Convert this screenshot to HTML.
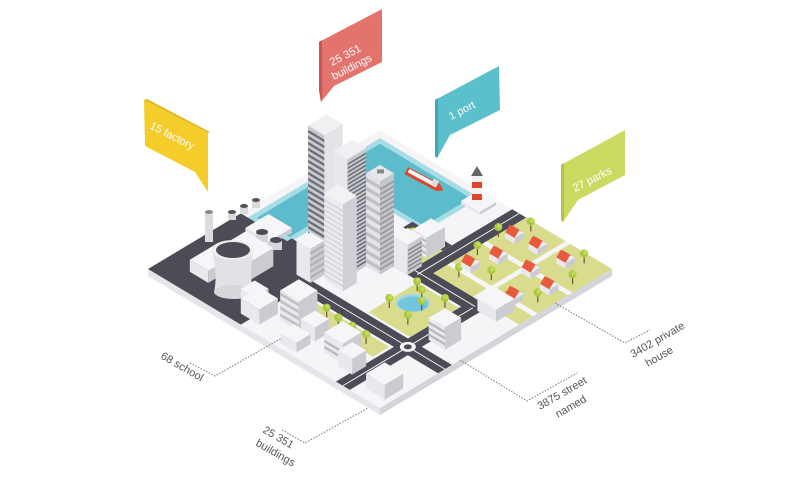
<!DOCTYPE html>
<html><head><meta charset="utf-8"><style>
html,body{margin:0;padding:0;background:#fff;width:800px;height:480px;overflow:hidden}
svg{display:block}
text{font-family:"Liberation Sans",sans-serif}
</style></head><body>
<svg id="s" width="800" height="480" viewBox="0 0 800 480" xmlns="http://www.w3.org/2000/svg">
<g id="city"></g>
<polygon points="319,42 382,9 382,62 334,86 321,102 319,90" fill="#e5736d"/>
<polygon points="319,42 322,40 322,100 321,102 319,90" fill="#c95650"/>
<text fill="#fff" font-size="11" transform="translate(332,66) rotate(-27)">25 351</text>
<text fill="#fff" font-size="11" transform="translate(334,80) rotate(-27)">buildings</text>

<polygon points="144,100 208,133 208,192 195,172 145,146" fill="#f4cd2a"/>
<polygon points="144,100 147,99 210,132 208,133" fill="#e2b81c"/>
<text fill="#fff" font-size="11" transform="translate(149,128) rotate(27)">15 factory</text>

<polygon points="435,100 499,66 500,110 450,135 437,158 435,156" fill="#5cbfcc"/>
<polygon points="435,100 438,98 438,156 437,158 435,156" fill="#45a7b4"/>
<text fill="#fff" font-size="11" transform="translate(451,120) rotate(-27)">1 port</text>

<polygon points="561,165 625,130 625,175 578,200 563,222 561,220" fill="#cdda62"/>
<polygon points="561,165 564,163 564,220 563,222 561,220" fill="#b4c24a"/>
<text fill="#fff" font-size="11" transform="translate(575,192) rotate(-27)">27 parks</text>

<g stroke="#777" stroke-width="1" stroke-dasharray="1.5,1.5" fill="none">
<polyline points="190,363 215,376 282,338"/>
<polyline points="282,430 305,443 368,408"/>
<polyline points="460,360 527,401 577,373"/>
<polyline points="555,303 625,343 650,330"/>
</g>
<g fill="#555" font-size="11">
<text transform="translate(160,358) rotate(30)">68 school</text>
<text transform="translate(262,432) rotate(30)">25 351</text>
<text transform="translate(255,445) rotate(30)">buildings</text>
<text transform="translate(540,410) rotate(-30)">3875 street</text>
<text transform="translate(558,418) rotate(-30)">named</text>
<text transform="translate(633,358) rotate(-30)">3402 private</text>
<text transform="translate(648,367) rotate(-30)">house</text>
</g>
</svg>
<script>
const out=[];
const P=(u,v,z=0)=>[380+2.32*(u-v),130+1.39*(u+v)-z];
const pts=a=>a.map(p=>p[0].toFixed(1)+','+p[1].toFixed(1)).join(' ');
function poly(a,f,extra=''){out.push(`<polygon points="${pts(a)}" fill="${f}" ${extra}/>`);}
function rect(u0,v0,u1,v1,f,z=0){poly([P(u0,v0,z),P(u1,v0,z),P(u1,v1,z),P(u0,v1,z)],f);}
function box(u0,v0,u1,v1,h,z=0,c=['#f6f6f8','#e9e9ed','#cbccd2']){
 poly([P(u0,v1,z),P(u1,v1,z),P(u1,v1,z+h),P(u0,v1,z+h)],c[1]);
 poly([P(u1,v1,z),P(u1,v0,z),P(u1,v0,z+h),P(u1,v1,z+h)],c[2]);
 poly([P(u0,v0,z+h),P(u1,v0,z+h),P(u1,v1,z+h),P(u0,v1,z+h)],c[0]);
}
function stripesL(u0,v1,u1,z0,z1,step,col){for(let z=z0;z<z1-2;z+=step){poly([P(u0,v1,z),P(u1,v1,z),P(u1,v1,z+step*0.45),P(u0,v1,z+step*0.45)],col);}}
function stripesR(u1,v0,v1,z0,z1,step,col){for(let z=z0;z<z1-2;z+=step){poly([P(u1,v1,z),P(u1,v0,z),P(u1,v0,z+step*0.45),P(u1,v1,z+step*0.45)],col);}}
function tree(u,v){const b=P(u,v),t=P(u,v,8);out.push(`<line x1="${b[0]}" y1="${b[1]}" x2="${t[0]}" y2="${t[1]}" stroke="#6b5a3a" stroke-width="1.2"/><circle cx="${t[0]}" cy="${t[1]-2}" r="4" fill="#a9c93f"/><circle cx="${t[0]+1}" cy="${t[1]-3}" r="2.2" fill="#c3da5c"/>`);}
function house(u,v){box(u,v,u+4,v+4,6);
 poly([P(u,v,6),P(u+4,v,6),P(u+4,v+2,11),P(u,v+2,11)],'#c9442c');
 poly([P(u,v+4,6),P(u+4,v+4,6),P(u+4,v+2,11),P(u,v+2,11)],'#e85a3c');
 poly([P(u+4,v+4,6),P(u+4,v,6),P(u+4,v+2,11)],'#f0f0f2');}
const D='#4b4c56',G='#d8dc8c',W='#f5f5f7';
box(0,0,100,100,7,-7,[W,'#e6e6ea','#d4d5da']);
rect(3,3,46,27,'#a6dce5');rect(3,3,21,60,'#a6dce5');
rect(5,5,44,25,'#5cbccb');rect(5,5,19,58,'#5cbccb');
rect(0,60,40,100,D);rect(20,58,40,66,D);
rect(36,69,100,75,D);rect(81,42,87,100,D);rect(57,0,63,46,D);rect(30,40,87,46,D);
rect(40,26,57,30,D);
rect(63,47,81,68,G);rect(40,76,80,83,G);rect(63,0,100,40,G);rect(45,30,57,40,G);
rect(80,0,82,40,'#f5f5f7');rect(63,17,100,19,'#f5f5f7');rect(63,32,100,34,'#f7f7f9');
out.push(`<g stroke="#fff" stroke-width="0.9">`);
[[P(38,72),P(100,72)],[P(84,44),P(84,100)],[P(60,0),P(60,44)],[P(32,43),P(84,43)]].forEach(l=>out.push(`<line x1="${l[0][0]}" y1="${l[0][1]}" x2="${l[1][0]}" y2="${l[1][1]}"/>`));
out.push(`</g>`);
{const c=P(84,72);out.push(`<ellipse cx="${c[0]}" cy="${c[1]}" rx="8" ry="5" fill="#f5f5f7"/><ellipse cx="${c[0]}" cy="${c[1]}" rx="4" ry="2.5" fill="${D}"/>`);}
out.push(`<ellipse cx="413" cy="303" rx="17" ry="9" fill="#9fd7e4"/><ellipse cx="413" cy="304" rx="15" ry="7.5" fill="#72c5dc"/>`);
box(44,2,52,9,3,0);
out.push(`<rect x="472" y="176" width="10" height="28" fill="#f2f2f2"/><rect x="472" y="182" width="10" height="6" fill="#e0452c"/><rect x="472" y="194" width="10" height="6" fill="#e0452c"/><polygon points="471,176 477,166 483,176" fill="#666"/>`);
out.push(`<g transform="translate(424,180) rotate(28)"><polygon points="-20,-4 16,-4 22,0 16,4 -20,4" fill="#e0452c"/><rect x="-18" y="-3" width="32" height="4" fill="#f4f4f4"/><rect x="8" y="-6" width="6" height="6" fill="#ddd"/></g>`);
out.push(`<rect x="205" y="212" width="8" height="30" fill="#dcdce0"/><ellipse cx="209" cy="212" rx="4" ry="2" fill="#888"/>`);
box(8,56,18,66,5,0);
[[232,212],[244,206],[256,200]].forEach(p=>out.push(`<rect x="${p[0]-4}" y="${p[1]}" width="8" height="8" fill="#d9d9dd"/><ellipse cx="${p[0]}" cy="${p[1]}" rx="4" ry="2" fill="#555"/>`));
[[262,232],[276,240]].forEach(p=>out.push(`<rect x="${p[0]-6}" y="${p[1]}" width="12" height="10" fill="#d5d5da"/><ellipse cx="${p[0]}" cy="${p[1]}" rx="6" ry="3" fill="#4b4c56"/>`));
box(14,72,26,82,18,0);box(10,80,18,92,12,0);
out.push(`<path d="M212,250 Q218,275 214,292 L254,292 Q248,275 254,250 Z" fill="#e2e2e6"/><ellipse cx="234" cy="292" rx="20" ry="7" fill="#d6d6db"/><ellipse cx="233" cy="250" rx="21" ry="10" fill="#eee"/><ellipse cx="233" cy="250" rx="17" ry="8" fill="#4b4c56"/>`);
box(30,84,36,90,8,0);
[[44,79],[50,79],[56,79],[62,80],[68,80],[74,80],[66,50],[70,52],[74,56],[78,50],[66,62],[76,64],[47,33],[53,33],[69,4],[92,4],[97,14],[96,28],[66,24],[78,30],[90,36],[70,36],[64,13]].forEach(t=>tree(t[0],t[1]));
[[66,8],[75,7],[86,6],[67,28],[70,19],[82,17],[92,19],[88,30]].forEach(h=>house(h[0],h[1]));
box(50,28,56,36,20);stripesL(50,36,56,3,20,6,'#bfc0c6');
box(30,53,37,61,131,0,['#f0f0f2','#c9cad0','#e4e4e8']);stripesL(30,61,37,4,128,6,'#6d6e78');
box(46,46,52,52,93,0,['#e8e8ea','#e4e4e8','#c5c6cc']);stripesL(46,52,52,4,90,9,'#c0c1c7');stripesR(52,46,52,4,90,5,'#9b9ca4');
{const a=P(48,48,93);out.push(`<rect x="${a[0]-3}" y="${a[1]-1}" width="7" height="4" fill="#888"/>`);}
box(40,52,46,60,118,0,['#f0f0f2','#e8e8ec','#c8c9cf']);stripesR(46,52,60,4,115,4,'#6d6e78');
box(52,40,58,46,30);stripesR(58,40,46,3,28,4,'#8a8b93');
box(34,64,40,70,34);stripesR(40,64,70,4,32,6,'#b0b1b8');
box(42,60,50,66,87,0,['#f3f3f5','#ececf0','#cfd0d5']);stripesL(42,66,50,4,85,5,'#d7d8dc');
box(86,36,94,44,12);
box(86,58,93,65,22);stripesL(86,65,93,4,20,6,'#b8b9c0');
box(47,82,55,90,30);stripesL(47,90,55,4,28,7,'#c0c1c7');
box(56,84,62,90,14);
box(36,88,44,96,15);
box(68,84,76,92,20);stripesL(68,92,76,4,18,6,'#b8b9c0');
box(76,88,82,94,16);
box(90,88,98,96,15);
box(55,92,62,98,10);
document.getElementById('city').innerHTML=out.join('');
</script>
</body></html>
